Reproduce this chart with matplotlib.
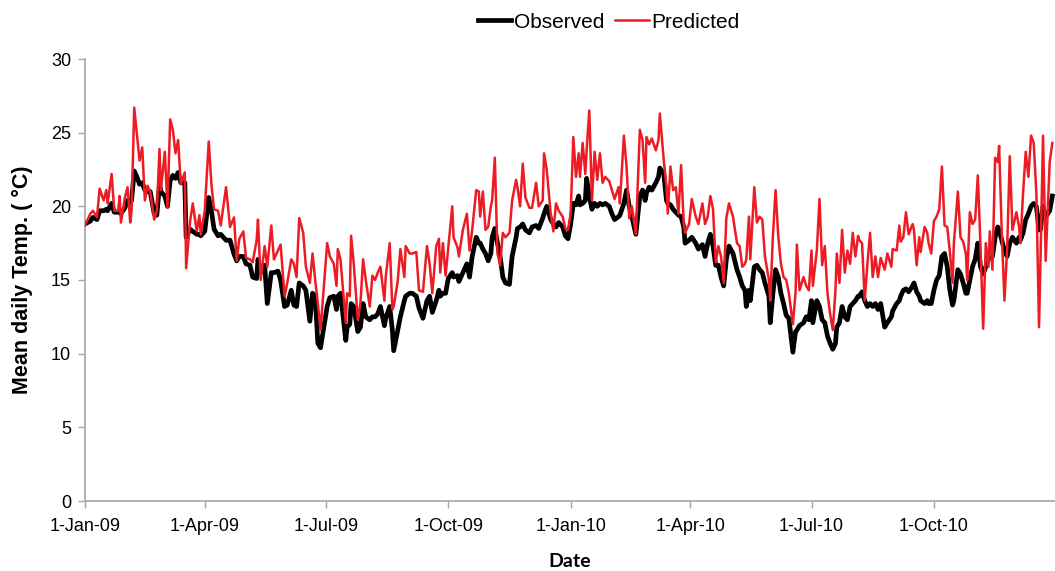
import numpy as np
import matplotlib
matplotlib.use("Agg")
import matplotlib.pyplot as plt
import matplotlib.dates as mdates
from matplotlib.ticker import FuncFormatter, MultipleLocator

# Sample days counted from 1 Jan 2009, with observed and predicted mean daily temperature (°C)
day_offsets = [
    0, 4, 6, 9, 11, 14, 16, 17, 20, 22, 25, 26, 27, 30, 32, 34, 35, 37, 39, 41,
    43, 45, 47, 49, 52, 54, 56, 57, 60, 62, 64, 66, 68, 70, 72, 75, 76, 79, 81, 84,
    86, 87, 90, 93, 95, 97, 100, 102, 106, 109, 112, 114, 116, 119, 121,
    124, 126, 129, 130, 132, 135, 137, 140, 142, 145, 147, 150, 152, 155, 157, 159,
    161, 164, 166, 169, 171, 173, 175, 177, 180, 182, 184, 187, 189, 190, 192, 196,
    197, 199, 200, 202, 205, 207, 209, 211, 214, 216, 218, 220, 222, 225, 226, 229,
    231, 232, 235, 237, 240, 241, 244,
    246, 249, 251, 254, 257, 259, 261, 264, 266, 267, 269, 271, 273, 276, 277, 280,
    281, 284, 287, 289, 291, 294, 296, 297, 299, 301, 303, 305, 306, 308, 310, 312,
    314, 316, 319, 321, 324, 325, 327, 329, 331, 334, 336, 339, 341, 344, 345, 347,
    350, 352, 354, 356, 359, 361, 363,
    365, 367, 369, 371, 372, 374, 376, 377, 379, 381, 383, 385, 387, 389, 391, 394,
    396, 398, 401, 402, 405, 407, 409, 411, 414, 417, 419, 421, 422, 424, 426, 429,
    431, 432, 435, 437, 438, 440, 442, 444, 446, 448, 450, 451, 454, 456, 459, 461,
    464, 466, 468, 470, 472, 474, 476, 478, 480, 482, 484,
    487, 490, 492, 494, 496, 497, 499, 500, 503, 505, 507, 509, 511, 514, 515, 517,
    519, 521, 523, 525, 527, 529, 532, 534, 535, 537, 540, 542, 544, 546, 547, 550,
    552, 554, 556, 558, 560, 562, 564, 565, 567, 569, 571, 573, 575, 577, 579, 581,
    582, 584, 586, 588, 590, 592, 594, 596, 598, 601, 603,
    606, 607, 610, 612, 613, 615, 617, 619, 622, 623, 625, 627, 628, 631, 633, 634,
    636, 638, 640, 642, 644, 646, 648, 650, 652, 653, 656, 658, 660, 662, 663, 665,
    667, 669, 671, 673, 675, 677, 679, 680, 682, 684, 686, 687, 689, 691, 693, 695,
    697, 700, 702, 703, 705, 707, 709, 711, 713, 715, 717, 718, 720, 722, 725, 727,
]

observed = [
    18.8, 19.0, 19.25, 19.1, 19.7, 19.7, 19.8, 19.7, 20.2, 19.6, 19.6, 19.7, 19.5, 19.9, 20.4, 20.2, 20.4, 22.4, 22.0, 21.5,
    21.6, 21.1, 21.0, 21.0, 19.5, 19.4, 21.5, 21.0, 20.7, 20.0, 21.75, 22.1, 21.9, 22.3, 21.6, 21.6, 17.9, 18.45, 18.3, 18.1,
    18.1, 18.0, 18.3, 20.6, 19.7, 18.45, 18.0, 18.1, 17.7, 17.7, 16.75, 16.3, 16.6, 16.6, 16.1,
    16.0, 15.2, 15.1, 16.4, 15.5, 16.0, 13.4, 15.5, 15.5, 15.6, 15.0, 13.2, 13.3, 14.3, 13.3, 13.2,
    14.8, 14.6, 14.3, 12.2, 14.1, 13.9, 10.7, 10.4, 12.1, 13.2, 13.8, 13.9, 13.0, 13.9, 14.1, 10.9,
    11.8, 12.0, 13.4, 13.2, 11.5, 11.8, 13.4, 12.5, 12.3, 12.5, 12.5, 12.7, 13.2, 11.9, 12.4, 13.2,
    11.6, 10.2, 11.6, 12.5, 13.6, 13.9, 14.1,
    14.1, 13.9, 13.1, 12.4, 13.6, 13.9, 12.8, 13.6, 14.3, 13.9, 14.1, 14.1, 15.1, 15.5, 15.2, 15.3,
    14.9, 15.5, 16.1, 15.2, 16.6, 17.9, 17.5, 17.5, 17.1, 16.8, 16.3, 16.8, 17.9, 18.5, 17.5, 16.6,
    15.2, 14.8, 14.7, 16.6, 17.9, 18.5, 18.6, 18.8, 18.4, 18.2, 18.6, 18.7, 18.5, 19.2, 19.5, 20.0,
    19.1, 18.8, 18.6, 18.9, 18.6, 18.0, 17.8,
    18.8, 20.2, 20.1, 20.7, 20.1, 20.2, 20.4, 21.9, 20.7, 19.8, 20.2, 20.0, 20.2, 20.1, 20.2, 20.0,
    19.5, 19.1, 19.3, 19.4, 20.2, 21.1, 20.0, 19.3, 18.1, 20.7, 21.1, 20.4, 20.9, 21.3, 21.1, 21.6,
    22.0, 22.6, 22.2, 20.4, 20.2, 20.1, 19.8, 19.6, 19.4, 19.3, 18.6, 17.5, 17.7, 17.9, 17.5, 17.1,
    17.4, 16.6, 17.5, 18.1, 17.3, 16.0, 16.0, 15.2, 14.6, 16.4, 17.3,
    16.8, 15.7, 15.2, 14.6, 14.3, 13.2, 14.3, 13.6, 15.9, 16.0, 15.7, 15.5, 14.8, 13.9, 12.1, 14.1,
    15.7, 15.2, 14.1, 13.4, 12.6, 12.4, 10.1, 11.5, 11.6, 11.9, 12.1, 12.5, 12.3, 13.6, 12.1, 13.6,
    13.2, 12.3, 12.1, 11.2, 10.7, 10.3, 10.7, 11.8, 12.1, 13.2, 12.5, 12.3, 13.2, 13.4, 13.6, 13.9,
    13.9, 14.2, 13.6, 13.2, 13.4, 13.2, 13.4, 13.0, 13.4, 11.8, 12.1,
    12.5, 12.9, 13.4, 13.6, 13.9, 14.3, 14.4, 14.2, 14.6, 14.8, 14.2, 13.9, 13.6, 13.4, 13.6, 13.4,
    13.4, 14.3, 15.0, 15.3, 16.6, 16.8, 15.9, 14.3, 13.3, 13.6, 15.7, 15.4, 14.8, 14.1, 14.1, 15.0,
    15.9, 16.4, 17.5, 15.9, 15.4, 15.9, 16.4, 16.6, 16.6, 17.9, 18.6, 18.4, 17.7, 17.0, 16.6, 17.5,
    17.9, 17.5, 17.9, 17.7, 18.2, 19.1, 19.5, 20.0, 20.2, 20.0, 18.4, 18.4, 20.0, 19.3, 19.7, 20.7,
]

predicted = [
    18.7, 19.5, 19.7, 19.25, 21.2, 20.4, 21.1, 20.2, 22.2, 19.7, 19.7, 20.7, 18.9, 20.6, 21.3, 18.9, 19.7, 26.7, 24.9, 23.1,
    24.0, 20.4, 21.4, 21.0, 19.1, 19.7, 23.9, 21.1, 23.7, 19.9, 25.9, 25.2, 23.6, 24.5, 21.5, 22.3, 15.8, 19.0, 20.2, 18.3,
    19.4, 18.1, 19.7, 24.4, 21.5, 19.8, 19.7, 18.7, 21.3, 18.6, 19.25, 16.3, 17.8, 18.3, 16.5,
    16.4, 16.2, 17.7, 19.1, 15.0, 17.3, 15.9, 18.7, 16.4, 17.0, 17.4, 13.9, 14.8, 16.4, 16.1, 15.2,
    19.2, 18.2, 15.9, 14.8, 16.8, 15.0, 13.4, 11.6, 15.2, 17.5, 16.6, 16.1, 14.6, 17.1, 16.4, 12.1,
    14.1, 13.9, 18.0, 16.1, 12.3, 13.4, 16.4, 15.0, 13.2, 15.3, 15.0, 15.5, 15.9, 13.6, 15.2, 17.5,
    13.0, 13.2, 14.9, 17.1, 15.2, 17.3, 16.8,
    16.8, 16.9, 14.3, 14.2, 17.3, 16.1, 14.1, 17.3, 17.8, 15.5, 17.5, 15.3, 17.2, 20.0, 17.9, 17.2,
    16.6, 18.4, 19.5, 17.0, 18.4, 21.1, 21.0, 19.3, 21.0, 18.4, 18.6, 20.0, 20.4, 23.3, 16.8, 16.0,
    18.2, 17.9, 18.2, 20.4, 21.8, 21.3, 20.0, 22.9, 20.6, 19.9, 19.9, 21.6, 20.0, 20.4, 23.6, 22.5,
    19.5, 18.3, 20.2, 19.7, 19.3, 18.5, 18.4,
    19.5, 24.7, 22.0, 23.6, 22.0, 24.3, 22.2, 23.8, 26.5, 20.4, 23.7, 21.8, 23.6, 21.6, 22.0, 21.7,
    21.1, 20.5, 21.3, 20.2, 24.8, 22.7, 19.2, 20.0, 18.1, 25.2, 24.5, 21.6, 24.7, 24.2, 24.6, 23.8,
    24.5, 26.3, 23.1, 21.3, 19.5, 22.7, 21.1, 21.3, 19.5, 22.8, 18.8, 18.2, 18.8, 20.5, 19.3, 18.8,
    20.2, 18.8, 19.3, 20.7, 19.8, 16.2, 17.3, 16.6, 14.8, 19.2, 20.2,
    19.3, 17.5, 17.3, 15.9, 16.1, 16.4, 19.3, 16.4, 21.3, 18.9, 19.3, 19.1, 16.6, 15.0, 13.6, 18.0,
    21.1, 18.0, 16.1, 15.2, 15.0, 14.1, 12.0, 14.1, 17.4, 14.3, 15.2, 14.6, 14.3, 17.0, 14.6, 17.0,
    20.5, 16.0, 17.3, 14.1, 12.7, 11.6, 14.3, 16.8, 14.8, 18.4, 15.5, 17.0, 16.1, 18.2, 16.6, 18.0,
    17.7, 17.5, 13.6, 16.1, 18.2, 15.2, 16.6, 15.2, 16.5, 15.7, 16.8,
    15.9, 17.1, 17.0, 18.7, 17.6, 17.9, 19.6, 18.1, 18.8, 18.4, 16.0, 17.9, 16.9, 18.6, 18.2, 17.5,
    16.8, 19.0, 19.3, 19.8, 22.7, 18.7, 18.6, 16.9, 14.8, 17.5, 21.0, 17.9, 17.6, 16.8, 15.0, 19.6,
    18.8, 19.1, 22.1, 17.3, 11.7, 17.5, 15.9, 18.3, 15.7, 23.3, 23.0, 24.1, 18.2, 13.6, 17.0, 23.4,
    18.4, 19.6, 18.6, 17.5, 20.9, 23.7, 22.0, 24.8, 24.3, 20.9, 11.8, 15.9, 24.8, 16.3, 23.0, 24.3,
]

series_labels = ["Observed", "Predicted"]
y_title = "Mean daily Temp. ( °C)"
x_title = "Date"

start = np.datetime64("2009-01-01")
dates = start + np.array(day_offsets, dtype="timedelta64[D]")

plt.rcParams["font.family"] = ["Liberation Sans", "DejaVu Sans"]

fig = plt.figure(figsize=(10.55, 5.71), dpi=100)
ax = fig.add_axes([85 / 1055, 1 - 501 / 571, 970 / 1055, 442 / 571])

obs_line, = ax.plot(dates, observed, color="black", lw=3.4, solid_joinstyle="round",
                    label=series_labels[0], zorder=2)
pred_line, = ax.plot(dates, predicted, color="#ED1C24", lw=1.8, solid_joinstyle="round",
                     label=series_labels[1], zorder=3)

ax.set_xlim(np.datetime64("2009-01-01"), np.datetime64("2010-12-31"))
ax.set_ylim(0, 30)
ax.yaxis.set_major_locator(MultipleLocator(5))

ax.xaxis.set_major_locator(mdates.MonthLocator(bymonth=[1, 4, 7, 10]))


def date_label(x, pos=None):
    d = mdates.num2date(x)
    return f"{d.day}-{d.strftime('%b-%y')}"


ax.xaxis.set_major_formatter(FuncFormatter(date_label))

axis_grey = "#A6A6A6"
for side in ("top", "right"):
    ax.spines[side].set_visible(False)
for side in ("left", "bottom"):
    ax.spines[side].set_color(axis_grey)
    ax.spines[side].set_linewidth(1.2)

ax.tick_params(axis="both", direction="out", length=5, width=1.0, color=axis_grey,
               labelsize=13, labelcolor="black")
ax.tick_params(axis="y", pad=5)
ax.tick_params(axis="x", pad=7)

ax.set_ylabel(y_title, fontsize=15.5, fontweight="bold", labelpad=13)
ax.set_xlabel(x_title, fontsize=14, fontweight="bold", labelpad=13,
              family=["Lato", "DejaVu Sans"])

fig.legend(handles=[obs_line, pred_line], labels=series_labels, loc="center",
           bbox_to_anchor=(609 / 1055, 1 - 22 / 571), ncol=2, frameon=False,
           fontsize=15, handlelength=1.6, handletextpad=0.15, columnspacing=0.5)

fig.savefig("out.png", dpi=100)
